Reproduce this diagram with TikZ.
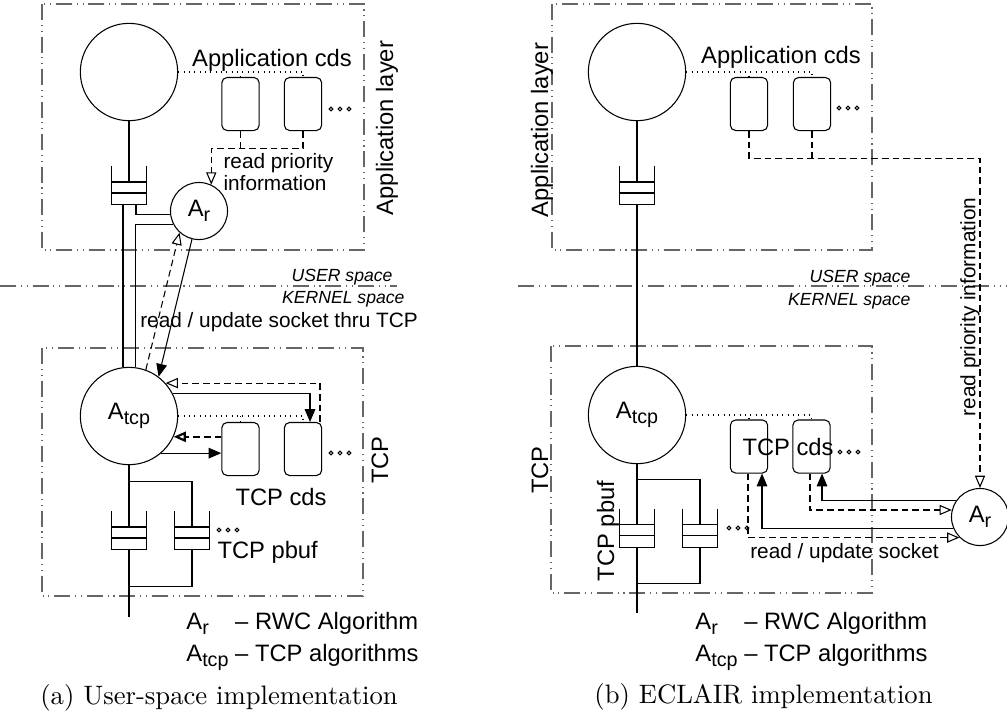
\documentclass[tikz,border=0pt]{standalone}
\usepackage{fontspec}
\newfontfamily\sansfig{Liberation Sans}
\usetikzlibrary{arrows.meta,calc}
\newcommand{\algsub}[1]{\raisebox{-0.4ex}{\fontsize{7.4}{8}\selectfont #1}}

\begin{document}
\begin{tikzpicture}[x=0.375pt, y=-0.375pt,
    layerbox/.style={draw=black!60, dash pattern=on 6pt off 1.8pt on 0.4pt off 1.8pt on 0.4pt off 1.8pt},
    proc/.style={draw, circle, inner sep=0pt, minimum size=36.5pt, font=\sansfig\fontsize{8.9}{10.7}\selectfont},
    alg/.style={draw, circle, inner sep=0pt, minimum size=21.4pt, font=\sansfig\fontsize{8.9}{10.7}\selectfont},
    cds/.style={draw, rounded corners=2pt, inner sep=0pt, minimum width=14pt, minimum height=19.9pt},
    queue/.style={inner sep=0pt, minimum width=12.75pt, minimum height=13.9pt},
    txt/.style={inner sep=0pt, font=\sansfig\fontsize{8.9}{10.7}\selectfont},
    note/.style={inner sep=0pt, align=left, font=\sansfig\fontsize{7.8}{7.2}\selectfont},
    spacetxt/.style={inner sep=0pt, font=\sansfig\itshape\fontsize{6.6}{8}\selectfont},
    legendtxt/.style={inner sep=0pt, font=\sansfig\fontsize{8.9}{12}\selectfont},
    captxt/.style={inner sep=0pt, font=\fontsize{10}{12}\selectfont},
    link/.style={dash pattern=on 0.4pt off 1.6pt},
    dashline/.style={dash pattern=on 2.5pt off 1.5pt},
    arrow/.style={-{Triangle[length=4.8pt,width=4pt]}},
    dasharrow/.style={dashline, -{Triangle[open,length=4.6pt,width=3.8pt]}}
  ]
    \useasboundingbox (0,0) rectangle (1007,724);

    % (a) user-space implementation
    \draw[layerbox] (42,4) rectangle (364,250);
    \draw[layerbox] (42,348) rectangle (363,596);
    \draw[layerbox] (0,286) -- (397,286);
    \node[txt, rotate=90] (ulayer) at (387,128) {Application layer};
    \node[txt, rotate=90] (utcplayer) at (380,460) {TCP};
    \node[spacetxt, anchor=east] (uuser) at (393,277) {USER space};
    \node[spacetxt, anchor=east] (ukern) at (405,299) {KERNEL space};

    \node[proc] (uapp) at (129,72) {};
    \node[txt] (uappcds) at (272,60) {Application cds};
    \node[cds] (uac1) at (240.5,104) {};
    \node[cds] (uac2) at (303,104) {};
    \node[queue] (uq) at (129,185.5) {};
    \node[alg] (uar) at (199,211) {A\algsub{r}};
    \node[note, anchor=west] (uprio) at (223,172) {read priority\\information};
    \node[note] (uthru) at (279,322) {read / update socket thru TCP};
    \node[proc] (utcp) at (129,416) {A\algsub{tcp}};
    \node[cds] (utc1) at (240.5,449) {};
    \node[cds] (utc2) at (303,449) {};
    \node[txt] (utcpcds) at (281,497) {TCP cds};
    \node[queue] (upq1) at (129,530.5) {};
    \node[queue] (upq2) at (192,530.5) {};
    \node[txt, anchor=west] (upbuf) at (217,552) {TCP pbuf};
    \coordinate (uend) at (129,617);
    \foreach \x in {331,340,349} \draw (\x,109) circle[radius=0.7pt];
    \foreach \x in {331,340,349} \draw (\x,453) circle[radius=0.7pt];
    \foreach \x in {219,228,237} \draw (\x,530) circle[radius=0.7pt];

    \draw[link] (uapp.east) -| (uac2.north);
    \draw[link] (uac1.north) -- (uac1.north |- uapp.east);
    \draw[dashline] (uac1.south) -- ++(0,17);
    \draw[dasharrow] (uac2.south) -- ++(0,17) -| (uar.65);
    \draw (uapp.south) -- ($(uq.center)+(0,-3.5)$);
    \draw ($(uq.south)+(7,0)$) |- (uar.186);
    \draw (uar.207) -| (utcp.82);
    \draw (utcp.97) -- (utcp.97 |- uq.south);
    \draw[arrow] (uar.256) -- (utcp.53);
    \draw[dasharrow] (utcp.70) -- (uar.228);
    \draw[link] (utcp.east) -| (utc2.north);
    \draw[link] (utc1.north) -- (utc1.north |- utcp.east);
    \draw[dasharrow] ($(utc2.north)+(17,0)$) |- (utcp.42);
    \draw[arrow] (utcp.27) -| ($(utc2.north)+(7,0)$);
    \draw[dasharrow, line width=0.8pt] (utcp.-25 -| utc1.west) -- (utcp.-25);
    \draw[arrow] (utcp.-49) -- (utcp.-49 -| utc1.west);
    \draw (utcp.south) -- ($(upq1.center)+(0,-3.5)$);
    \draw ($(utcp.south)+(0,16)$) -| ($(upq2.center)+(0,-3.5)$);
    \draw (upq1.south) -- (uend);
    \draw (upq2.south) |- ($(upq1.south)+(0,37)$);

    \node[legendtxt] (ulegend) at (302.5,639) {\begin{tabular}{@{}l@{\hspace{2.5pt}}l@{}}A\algsub{r} & – RWC Algorithm\\A\algsub{tcp} & – TCP algorithms\end{tabular}};
    \node[captxt] (ucap) at (219,698) {(a) User-space implementation};

    % (b) ECLAIR implementation
    \draw[layerbox] (552,4) rectangle (872,250);
    \draw[layerbox] (551,346) rectangle (872,593);
    \draw[layerbox] (518,286) -- (1007,286);
    \node[txt, rotate=90] (elayer) at (542,130) {Application layer};
    \node[txt, rotate=90] (etcplayer) at (540,470) {TCP};
    \node[spacetxt, anchor=east] (euser) at (911,278) {USER space};
    \node[spacetxt, anchor=east] (ekern) at (911,301) {KERNEL space};

    \node[proc] (eapp) at (637,72) {};
    \node[txt] (eappcds) at (781,57) {Application cds};
    \node[cds] (eac1) at (749,104) {};
    \node[cds] (eac2) at (812,104) {};
    \node[queue] (eq) at (637,185.5) {};
    \node[proc] (etcp) at (637,415) {A\algsub{tcp}};
    \node[cds] (etc1) at (749,446.5) {};
    \node[cds] (etc2) at (811.5,446.5) {};
    \node[txt] (etcpcds) at (788,447) {TCP cds};
    \node[queue] (epq1) at (637,528) {};
    \node[queue] (epq2) at (700,528) {};
    \node[txt, rotate=90] (epbuf) at (608,531) {TCP pbuf};
    \node[alg] (ear) at (980,517) {A\algsub{r}};
    \node[note, rotate=90] (eprio) at (970,307) {read priority information};
    \node[note] (esock) at (844.5,553) {read / update socket};
    \coordinate (eend) at (637,613);
    \foreach \x in {839,848,857} \draw (\x,108) circle[radius=0.7pt];
    \foreach \x in {840,849,858} \draw (\x,452) circle[radius=0.7pt];
    \foreach \x in {729,738,747} \draw (\x,528) circle[radius=0.7pt];

    \draw[link] (eapp.east) -| (eac2.north);
    \draw[link] (eac1.north) -- (eac1.north |- eapp.east);
    \draw[dashline] (eac2.south) -- ++(0,27);
    \draw[dasharrow] (eac1.south) -- ++(0,27) -| (ear.north);
    \draw (eapp.south) -- ($(eq.center)+(0,-3.5)$);
    \draw (eq.south) -- (etcp.north);
    \draw[link] (etcp.east) -| (etc2.north);
    \draw[link] (etc1.north) -- (etc1.north |- etcp.east);
    \draw (etcp.south) -- ($(epq1.center)+(0,-3.5)$);
    \draw ($(etcp.south)+(0,15)$) -| ($(epq2.center)+(0,-3.5)$);
    \draw (epq1.south) -- (eend);
    \draw (epq2.south) |- ($(epq1.south)+(0,36)$);
    \draw[dasharrow] ($(etc1.south)+(-1,0)$) |- (ear.225);
    \draw[dasharrow] ($(etc2.south)+(-1.5,0)$) |- (ear.166);
    \draw[arrow] (ear.146) -| ($(etc2.south)+(10.5,0)$);
    \draw[arrow] (ear.203) -| ($(etc1.south)+(13,0)$);

    \node[legendtxt] (elegend) at (811.5,639) {\begin{tabular}{@{}l@{\hspace{2.5pt}}l@{}}A\algsub{r} & – RWC Algorithm\\A\algsub{tcp} & – TCP algorithms\end{tabular}};
    \node[captxt] (ecap) at (763.5,697) {(b) ECLAIR implementation};

    \foreach \q in {uq,upq1,upq2,eq,epq1,epq2} {
      \draw (\q.north west) |- (\q.south east) -- (\q.north east);
      \draw ($(\q.west)+(0,-3.5)$) -- ($(\q.east)+(0,-3.5)$);
      \draw ($(\q.west)+(0,7.5)$) -- ($(\q.east)+(0,7.5)$);
    }
  \end{tikzpicture}
\end{document}
